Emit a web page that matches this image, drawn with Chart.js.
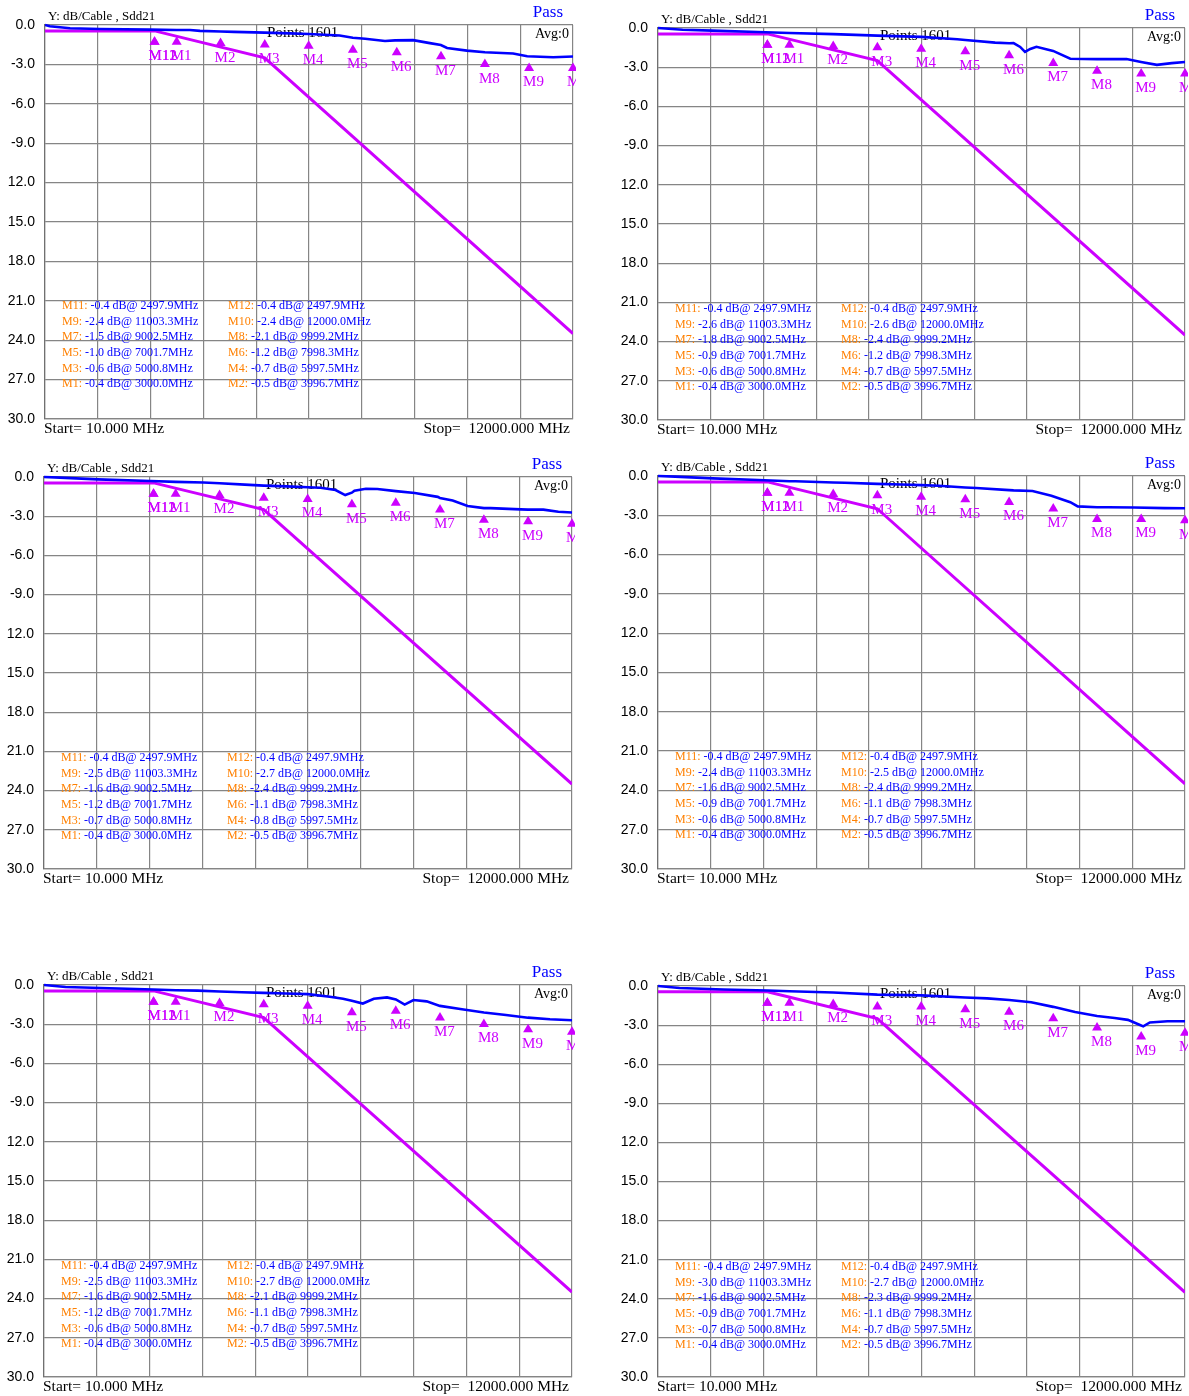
<!DOCTYPE html>
<html>
<head>
<meta charset="utf-8">
<script src="https://cdn.jsdelivr.net/npm/chart.js@4.4.1/dist/chart.umd.min.js"></script>
<style>
  html, body { margin: 0; padding: 0; background: #ffffff; }
  body { width: 1189px; height: 1396px; position: relative; overflow: hidden; }
  canvas { position: absolute; }
</style>
</head>
<body>
<script>
// ---- Marker definitions (shared by all six Sdd21 sweeps) ----
const markerNames = ['M1', 'M2', 'M3', 'M4', 'M5', 'M6', 'M7', 'M8', 'M9', 'M10', 'M11', 'M12'];
const markerFreq  = [3000.0, 3996.7, 5000.8, 5997.5, 7001.7, 7998.3, 9002.5, 9999.2, 11003.3, 12000.0, 2497.9, 2497.9];

// Marker readouts (dB), M1..M12, one array per cable
const markersA = [-0.4, -0.5, -0.6, -0.7, -1.0, -1.2, -1.5, -2.1, -2.4, -2.4, -0.4, -0.4];
const markersB = [-0.4, -0.5, -0.6, -0.7, -0.9, -1.2, -1.8, -2.4, -2.6, -2.6, -0.4, -0.4];
const markersC = [-0.4, -0.5, -0.7, -0.8, -1.2, -1.1, -1.6, -2.4, -2.5, -2.7, -0.4, -0.4];
const markersD = [-0.4, -0.5, -0.6, -0.7, -0.9, -1.1, -1.6, -2.4, -2.4, -2.5, -0.4, -0.4];
const markersE = [-0.4, -0.5, -0.6, -0.7, -1.2, -1.1, -1.6, -2.1, -2.5, -2.7, -0.4, -0.4];
const markersF = [-0.4, -0.5, -0.7, -0.7, -0.9, -1.1, -1.6, -2.3, -3.0, -2.7, -0.4, -0.4];

// ---- Pass/fail limit line ----
const limitFreq = [10, 2500, 5000, 12000];
const limitDb   = [-0.45, -0.45, -2.5, -23.5];

// ---- Measured Sdd21 traces (MHz / dB) ----
const freqA = [10, 120, 580, 1260, 2400, 3000, 3300, 3530, 4000, 4300, 5000, 5570, 6000, 6700, 7000, 7280, 7730, 7960, 8370, 8750, 9000, 9140, 9590, 10000, 10640, 10960, 11550, 12000];
const sddA  = [0.0, -0.1, -0.25, -0.3, -0.35, -0.38, -0.38, -0.45, -0.5, -0.52, -0.58, -0.64, -0.68, -0.8, -0.97, -1.05, -1.22, -1.17, -1.15, -1.38, -1.52, -1.75, -1.95, -2.08, -2.17, -2.38, -2.46, -2.4];

const freqB = [10, 570, 1250, 2280, 3000, 4000, 5000, 6000, 6820, 7000, 7680, 8000, 8100, 8250, 8360, 8480, 8620, 9000, 9390, 10000, 10670, 11000, 11360, 11700, 12000];
const sddB  = [0.0, -0.13, -0.2, -0.31, -0.38, -0.47, -0.58, -0.68, -0.86, -0.92, -1.12, -1.17, -1.15, -1.45, -1.83, -1.6, -1.44, -1.75, -2.35, -2.38, -2.38, -2.6, -2.82, -2.69, -2.6];

const freqC = [10, 370, 1230, 2430, 3000, 3630, 4000, 4570, 5000, 5520, 6000, 6290, 6630, 6850, 7000, 7060, 7320, 7580, 8000, 8430, 8950, 9000, 9290, 9630, 10000, 10150, 10830, 11000, 11350, 11690, 12000];
const sddC  = [0.0, -0.05, -0.18, -0.31, -0.37, -0.42, -0.48, -0.58, -0.66, -0.72, -0.78, -0.82, -1.0, -1.38, -1.2, -1.05, -0.9, -0.92, -1.08, -1.23, -1.52, -1.6, -1.8, -2.22, -2.38, -2.38, -2.48, -2.5, -2.5, -2.66, -2.72];

const freqD = [10, 400, 1260, 2290, 3000, 3140, 4000, 4260, 5000, 5540, 6000, 6400, 7000, 7250, 8000, 8100, 8530, 8960, 9390, 9560, 10000, 10250, 10840, 11530, 12000];
const sddD  = [0.0, -0.05, -0.18, -0.3, -0.4, -0.4, -0.5, -0.52, -0.6, -0.65, -0.7, -0.75, -0.88, -0.92, -1.08, -1.1, -1.15, -1.5, -2.0, -2.32, -2.38, -2.38, -2.4, -2.45, -2.46];

const freqE = [10, 500, 1500, 2500, 3000, 3500, 4000, 4500, 5000, 5500, 6000, 6500, 6800, 7000, 7250, 7500, 7800, 8000, 8200, 8400, 8700, 9000, 9500, 10000, 10500, 11000, 11500, 12000];
const sddE  = [0.0, -0.15, -0.25, -0.35, -0.4, -0.43, -0.5, -0.55, -0.6, -0.65, -0.7, -0.9, -1.05, -1.2, -1.42, -1.05, -0.95, -1.1, -1.5, -1.15, -1.25, -1.6, -1.85, -2.1, -2.3, -2.5, -2.62, -2.7];

const freqF = [10, 500, 1500, 2500, 3000, 4000, 5000, 6000, 7000, 7500, 8000, 8500, 9000, 9500, 10000, 10400, 10700, 10950, 11050, 11200, 11600, 12000];
const sddF  = [0.0, -0.15, -0.27, -0.35, -0.4, -0.5, -0.66, -0.72, -0.88, -0.95, -1.08, -1.25, -1.6, -2.0, -2.3, -2.45, -2.6, -2.95, -3.1, -2.8, -2.7, -2.7];

// ---- Axis text ----
const yTickLabels = ['0.0', '-3.0', '-6.0', '-9.0', '12.0', '15.0', '18.0', '21.0', '24.0', '27.0', '30.0'];
const yMin = -30, yMax = 0, yStep = 3;
const fStart = 10, fStop = 12000, xDivisions = 10;

// ---- Panel placement: plot rectangle (left, top, right, bottom) in page pixels ----
const panels = [
  { rect: [45, 25, 573, 419],    freq: freqA, sdd: sddA, markers: markersA },
  { rect: [658, 28, 1185, 420],  freq: freqB, sdd: sddB, markers: markersB },
  { rect: [44, 477, 572, 869],   freq: freqC, sdd: sddC, markers: markersC },
  { rect: [658, 476, 1185, 869], freq: freqD, sdd: sddD, markers: markersD },
  { rect: [44, 985, 572, 1377],  freq: freqE, sdd: sddE, markers: markersE },
  { rect: [658, 986, 1185, 1377], freq: freqF, sdd: sddF, markers: markersF }
];

const MAGENTA = 'rgb(204,0,255)';
const BLUE = '#0000ff';
const ORANGE = '#ff8000';
const GRID = '#858585';
const SERIF = '"Liberation Serif", "Times New Roman", serif';

const AXIS_W = 45, PAD_TOP = 26, PAD_BOTTOM = 22, PAD_RIGHT = 3;

// marker-table rows, top to bottom (marker numbers, left / right column)
const tableRows = [[11, 12], [9, 10], [7, 8], [5, 6], [3, 4], [1, 2]];

const vnaText = {
  id: 'vnaText',
  beforeDatasetsDraw(chart) {
    const { ctx, chartArea: a } = chart;
    ctx.save();
    ctx.fillStyle = '#000';
    ctx.textBaseline = 'middle';
    ctx.font = '15px ' + SERIF;
    ctx.textAlign = 'left';
    ctx.fillText('Points 1601', a.left + 222, a.top + 8);
    ctx.font = '14px ' + SERIF;
    ctx.textAlign = 'right';
    ctx.fillText('Avg:0', a.right - 4, a.top + 9);
    ctx.restore();
  },
  afterDatasetsDraw(chart, args, opts) {
    const { ctx, chartArea: a, scales } = chart;
    const xs = scales.x, ys = scales.y;
    const vals = opts.markers;
    ctx.save();
    // marker triangles and names
    ctx.font = '15px ' + SERIF;
    ctx.textAlign = 'left';
    ctx.textBaseline = 'middle';
    ctx.fillStyle = MAGENTA;
    vals.forEach((v, i) => {
      const px = xs.getPixelForValue(markerFreq[i]);
      const py = ys.getPixelForValue(v);
      ctx.beginPath();
      ctx.moveTo(px, py + 6);
      ctx.lineTo(px - 5, py + 14.5);
      ctx.lineTo(px + 5, py + 14.5);
      ctx.closePath();
      ctx.fill();
      ctx.fillText(markerNames[i], px - 6, py + 26);
    });
    // marker readout table
    ctx.font = '12px ' + SERIF;
    tableRows.forEach((row, r) => {
      const ty = a.top + 281 + r * 15.6;
      row.forEach((m, c) => {
        const i = m - 1;
        const tx = a.left + (c === 0 ? 17 : 183);
        const head = markerNames[i] + ':';
        const body = ' ' + vals[i].toFixed(1) + ' dB@ ' + markerFreq[i].toFixed(1) + 'MHz';
        ctx.fillStyle = ORANGE;
        ctx.fillText(head, tx, ty);
        const w = ctx.measureText(head).width;
        ctx.fillStyle = BLUE;
        ctx.fillText(body, tx + w, ty);
      });
    });
    ctx.restore();
  },
  afterDraw(chart) {
    const { ctx, chartArea: a } = chart;
    ctx.save();
    ctx.textBaseline = 'middle';
    ctx.fillStyle = '#000';
    ctx.font = '13px ' + SERIF;
    ctx.textAlign = 'left';
    ctx.fillText('Y: dB/Cable , Sdd21', a.left + 3, a.top - 8);
    ctx.fillStyle = BLUE;
    ctx.font = '17px ' + SERIF;
    ctx.textAlign = 'right';
    ctx.fillText('Pass', a.right - 10, a.top - 12);
    ctx.fillStyle = '#000';
    ctx.font = '15.5px ' + SERIF;
    ctx.textAlign = 'left';
    ctx.fillText('Start= ' + fStart.toFixed(3) + ' MHz', a.left - 1, a.bottom + 10);
    ctx.textAlign = 'right';
    ctx.fillText('Stop=  ' + fStop.toFixed(3) + ' MHz', a.right - 3, a.bottom + 10);
    ctx.restore();
  }
};

function toPoints(fs, vs) {
  return fs.map((f, i) => ({ x: f, y: vs[i] }));
}

panels.forEach((p) => {
  const [L, T, R, B] = p.rect;
  const canvas = document.createElement('canvas');
  const cw = (R + PAD_RIGHT) - (L - AXIS_W);
  const ch = (B - T) + PAD_TOP + PAD_BOTTOM;
  canvas.width = cw;
  canvas.height = ch;
  canvas.style.left = (L - AXIS_W) + 'px';
  canvas.style.top = (T - PAD_TOP) + 'px';
  canvas.style.width = cw + 'px';
  canvas.style.height = ch + 'px';
  document.body.appendChild(canvas);

  new Chart(canvas.getContext('2d'), {
    type: 'line',
    data: {
      datasets: [
        {
          label: 'Sdd21',
          data: toPoints(p.freq, p.sdd),
          borderColor: BLUE,
          borderWidth: 2.6,
          pointRadius: 0,
          tension: 0,
          order: 0,
          clip: { left: 0, top: 3, right: 0, bottom: 0 }
        },
        {
          label: 'Limit',
          data: toPoints(limitFreq, limitDb),
          borderColor: MAGENTA,
          borderWidth: 3,
          pointRadius: 0,
          tension: 0,
          order: 1
        }
      ]
    },
    options: {
      responsive: false,
      animation: false,
      devicePixelRatio: 1,
      parsing: false,
      layout: { padding: { top: PAD_TOP, bottom: PAD_BOTTOM, left: 0, right: PAD_RIGHT } },
      plugins: {
        legend: { display: false },
        tooltip: { enabled: false },
        vnaText: { markers: p.markers }
      },
      scales: {
        x: {
          type: 'linear',
          min: fStart,
          max: fStop,
          afterBuildTicks(scale) {
            const step = (fStop - fStart) / xDivisions;
            const t = [];
            for (let k = 0; k <= xDivisions; k++) t.push({ value: fStart + k * step });
            scale.ticks = t;
          },
          afterFit(scale) { scale.height = 0; },
          ticks: { display: false },
          grid: { color: GRID, lineWidth: 1.2, drawTicks: false },
          border: { color: GRID, width: 1.2 }
        },
        y: {
          type: 'linear',
          min: yMin,
          max: yMax,
          afterFit(scale) { scale.width = AXIS_W; },
          ticks: {
            stepSize: yStep,
            padding: 10,
            color: '#000',
            font: { family: '"Liberation Sans", Arial, sans-serif', size: 14 },
            callback: (v) => yTickLabels[Math.round(-v / yStep)]
          },
          grid: { color: GRID, lineWidth: 1.2, drawTicks: false },
          border: { color: '#707070', width: 1.2 }
        }
      }
    },
    plugins: [vnaText]
  });
});
</script>
</body>
</html>
